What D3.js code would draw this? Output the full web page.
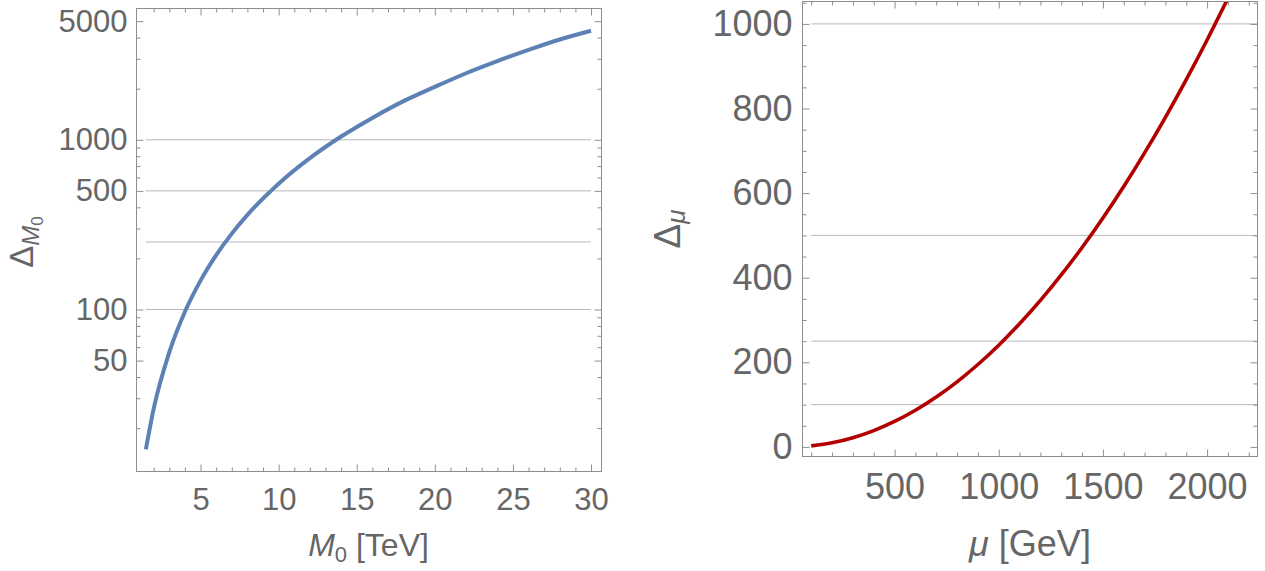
<!DOCTYPE html>
<html>
<head>
<meta charset="utf-8">
<script src="https://cdn.jsdelivr.net/npm/d3@7"></script>
<style>
  body { margin: 0; background: #fff; }
  text { font-family: "Liberation Sans", Arial, sans-serif; fill: #666; }
</style>
</head>
<body>
<div id="canvas"></div>
<script>
// left panel: Delta_M0 vs M0 [TeV], log y
var m0Values = [1.5, 2, 3, 4, 5, 6, 7, 8, 10, 12, 14, 16, 18, 20, 22, 24, 26, 28, 30]
var deltaM0 = [15, 26, 56, 97, 148, 209, 280, 361, 551, 779, 1045, 1346, 1690, 2050, 2467, 2908, 3385, 3898, 4390]
var leftXTicks = [5, 10, 15, 20, 25, 30]
var leftYTicks = [50, 100, 500, 1000, 5000]
var leftGrid = [100, 250, 500, 1000]

// right panel: Delta_mu vs mu [GeV]
var muValues = [100, 200, 300, 400, 500, 600, 700, 800, 900, 1000, 1100, 1200, 1300, 1400, 1500, 1600, 1700, 1800, 1900, 2000, 2100]
var deltaMu = [2.4, 9.6, 21.6, 38.5, 60.1, 86.6, 117.9, 153.9, 194.8, 240.5, 291, 346.3, 406.5, 471.4, 541.2, 615.7, 695.1, 779.3, 868.3, 962.1, 1060.7]
var rightXTicks = [500, 1000, 1500, 2000]
var rightYTicks = [0, 200, 400, 600, 800, 1000]
var rightGrid = [100, 250, 500, 1000]

var width = 1265
var height = 571

var svg = d3.select("#canvas")
    .append("svg")
    .attr("width", width)
    .attr("height", height)

svg.append("rect").attr("width", width).attr("height", height).attr("fill", "#fff")

var frameColor = "#8e8e8e"
var gridColor = "#b8b8b8"

function ticksOn(g, axis) {
    g.call(axis)
    g.select(".domain").remove()
    g.selectAll(".tick line").attr("stroke", frameColor).attr("stroke-width", 1)
    g.selectAll("text").attr("fill", "#666")
}

function drawPanel(p) {
    var x = p.x, y = p.y
    var g = svg.append("g")
    var x0 = x.range()[0], x1 = x.range()[1]
    var y0 = y.range()[0], y1 = y.range()[1]

    // grid lines
    g.selectAll(".grid")
        .data(p.grid)
        .enter()
        .append("line")
        .attr("x1", p.gridX[0])
        .attr("x2", p.gridX[1])
        .attr("y1", function (d) { return y(d) })
        .attr("y2", function (d) { return y(d) })
        .attr("stroke", gridColor)
        .attr("stroke-width", 1)

    // curve
    var clipId = "clip" + p.id
    svg.append("clipPath").attr("id", clipId)
        .append("rect").attr("x", x0).attr("y", y1).attr("width", x1 - x0).attr("height", y0 - y1)

    var pts = p.xs.map(function (d, i) { return [d, p.ys[i]] })
    g.append("path")
        .datum(pts)
        .attr("clip-path", "url(#" + clipId + ")")
        .attr("fill", "none")
        .attr("stroke", p.color)
        .attr("stroke-width", p.lw)
        .attr("d", d3.line()
            .x(function (d) { return x(d[0]) })
            .y(function (d) { return y(d[1]) })
            .curve(d3.curveMonotoneX))

    // frame ticks (inward), majors with labels
    var bottom = g.append("g").attr("transform", `translate(0,${y0})`)
    ticksOn(bottom, d3.axisBottom(x).tickValues(p.xMajor).tickSize(-7).tickPadding(p.xPad)
        .tickFormat(d3.format("d")))
    bottom.selectAll("text").style("font-size", p.fs + "px")
    var bottomMinor = g.append("g").attr("transform", `translate(0,${y0})`)
    ticksOn(bottomMinor, d3.axisBottom(x).tickValues(p.xMinor).tickSize(-4).tickFormat(""))

    var top = g.append("g").attr("transform", `translate(0,${y1})`)
    ticksOn(top, d3.axisTop(x).tickValues(p.xMajor).tickSize(-7).tickFormat(""))
    var topMinor = g.append("g").attr("transform", `translate(0,${y1})`)
    ticksOn(topMinor, d3.axisTop(x).tickValues(p.xMinor).tickSize(-4).tickFormat(""))

    var left = g.append("g").attr("transform", `translate(${x0},0)`)
    ticksOn(left, d3.axisLeft(y).tickValues(p.yMajor).tickSize(-7).tickPadding(p.yPad)
        .tickFormat(d3.format("d")))
    left.selectAll("text").style("font-size", p.fs + "px")
    var leftMinor = g.append("g").attr("transform", `translate(${x0},0)`)
    ticksOn(leftMinor, d3.axisLeft(y).tickValues(p.yMinor).tickSize(-4).tickFormat(""))

    var right = g.append("g").attr("transform", `translate(${x1},0)`)
    ticksOn(right, d3.axisRight(y).tickValues(p.yMajor).tickSize(-7).tickFormat(""))
    var rightMinor = g.append("g").attr("transform", `translate(${x1},0)`)
    ticksOn(rightMinor, d3.axisRight(y).tickValues(p.yMinor).tickSize(-4).tickFormat(""))

    // frame
    g.append("rect")
        .attr("x", x0).attr("y", y1)
        .attr("width", x1 - x0).attr("height", y0 - y1)
        .attr("fill", "none")
        .attr("stroke", frameColor)
        .attr("stroke-width", 1)
}

// left panel scales
var xLeft = d3.scaleLinear().domain([0.9, 30.67]).range([136.5, 601.5])
var yLeft = d3.scaleLog().domain([11.1, 5938]).range([471.5, 8.5])

var leftMinorY = []
;[10, 100, 1000].forEach(function (dec) {
    for (var k = 2; k <= 9; k++) {
        var v = k * dec
        if (v !== 50 && v !== 500 && v !== 5000 && v < 5938 && v > 11.1) leftMinorY.push(v)
    }
})

drawPanel({
    id: "L",
    x: xLeft, y: yLeft,
    xs: m0Values, ys: deltaM0,
    color: "#5e81b5", lw: 4,
    grid: leftGrid, gridX: [xLeft(1.5), xLeft(30)],
    xMajor: leftXTicks,
    xMinor: d3.range(2, 31).filter(function (d) { return d % 5 !== 0 }),
    yMajor: leftYTicks,
    yMinor: leftMinorY,
    fs: 31, xPad: 16, yPad: 9
})

// right panel scales
var xRight = d3.scaleLinear().domain([58.1, 2242]).range([802.5, 1257.5])
var yRight = d3.scaleLinear().domain([-22.7, 1053]).range([456.5, 1.5])

drawPanel({
    id: "R",
    x: xRight, y: yRight,
    xs: muValues, ys: deltaMu,
    color: "#b20000", lw: 3.6,
    grid: rightGrid, gridX: [xRight(100), xRight.range()[1]],
    xMajor: rightXTicks,
    xMinor: d3.range(100, 2201, 100).filter(function (d) { return d % 500 !== 0 }),
    yMajor: rightYTicks,
    yMinor: d3.range(50, 1051, 50).filter(function (d) { return d % 200 !== 0 }),
    fs: 36, xPad: 17, yPad: 10
})

// axis labels
var lbl = svg.append("text")
    .attr("x", 368.5).attr("y", 556)
    .attr("text-anchor", "middle")
    .style("font-size", "32px")
lbl.append("tspan").style("font-style", "italic").text("M")
lbl.append("tspan").attr("dy", 6).style("font-size", "22px").text("0")
lbl.append("tspan").attr("dy", -6).text(" [TeV]")

var lbl2 = svg.append("text")
    .attr("x", 1030).attr("y", 556)
    .attr("text-anchor", "middle")
    .style("font-size", "36px")
lbl2.append("tspan").style("font-style", "italic").text("μ")
lbl2.append("tspan").text(" [GeV]")

var ylbl = svg.append("text")
    .attr("transform", "translate(33,242) rotate(-90)")
    .attr("text-anchor", "middle")
    .style("font-size", "33px")
ylbl.append("tspan").text("Δ")
ylbl.append("tspan").attr("dy", 6).style("font-size", "24px").style("font-style", "italic").text("M")
ylbl.append("tspan").attr("dy", 4).style("font-size", "17px").text("0")

var ylbl2 = svg.append("text")
    .attr("transform", "translate(680,229) rotate(-90)")
    .attr("text-anchor", "middle")
    .style("font-size", "37px")
ylbl2.append("tspan").text("Δ")
ylbl2.append("tspan").attr("dy", 5).style("font-size", "26px").style("font-style", "italic").text("μ")
</script>
</body>
</html>
